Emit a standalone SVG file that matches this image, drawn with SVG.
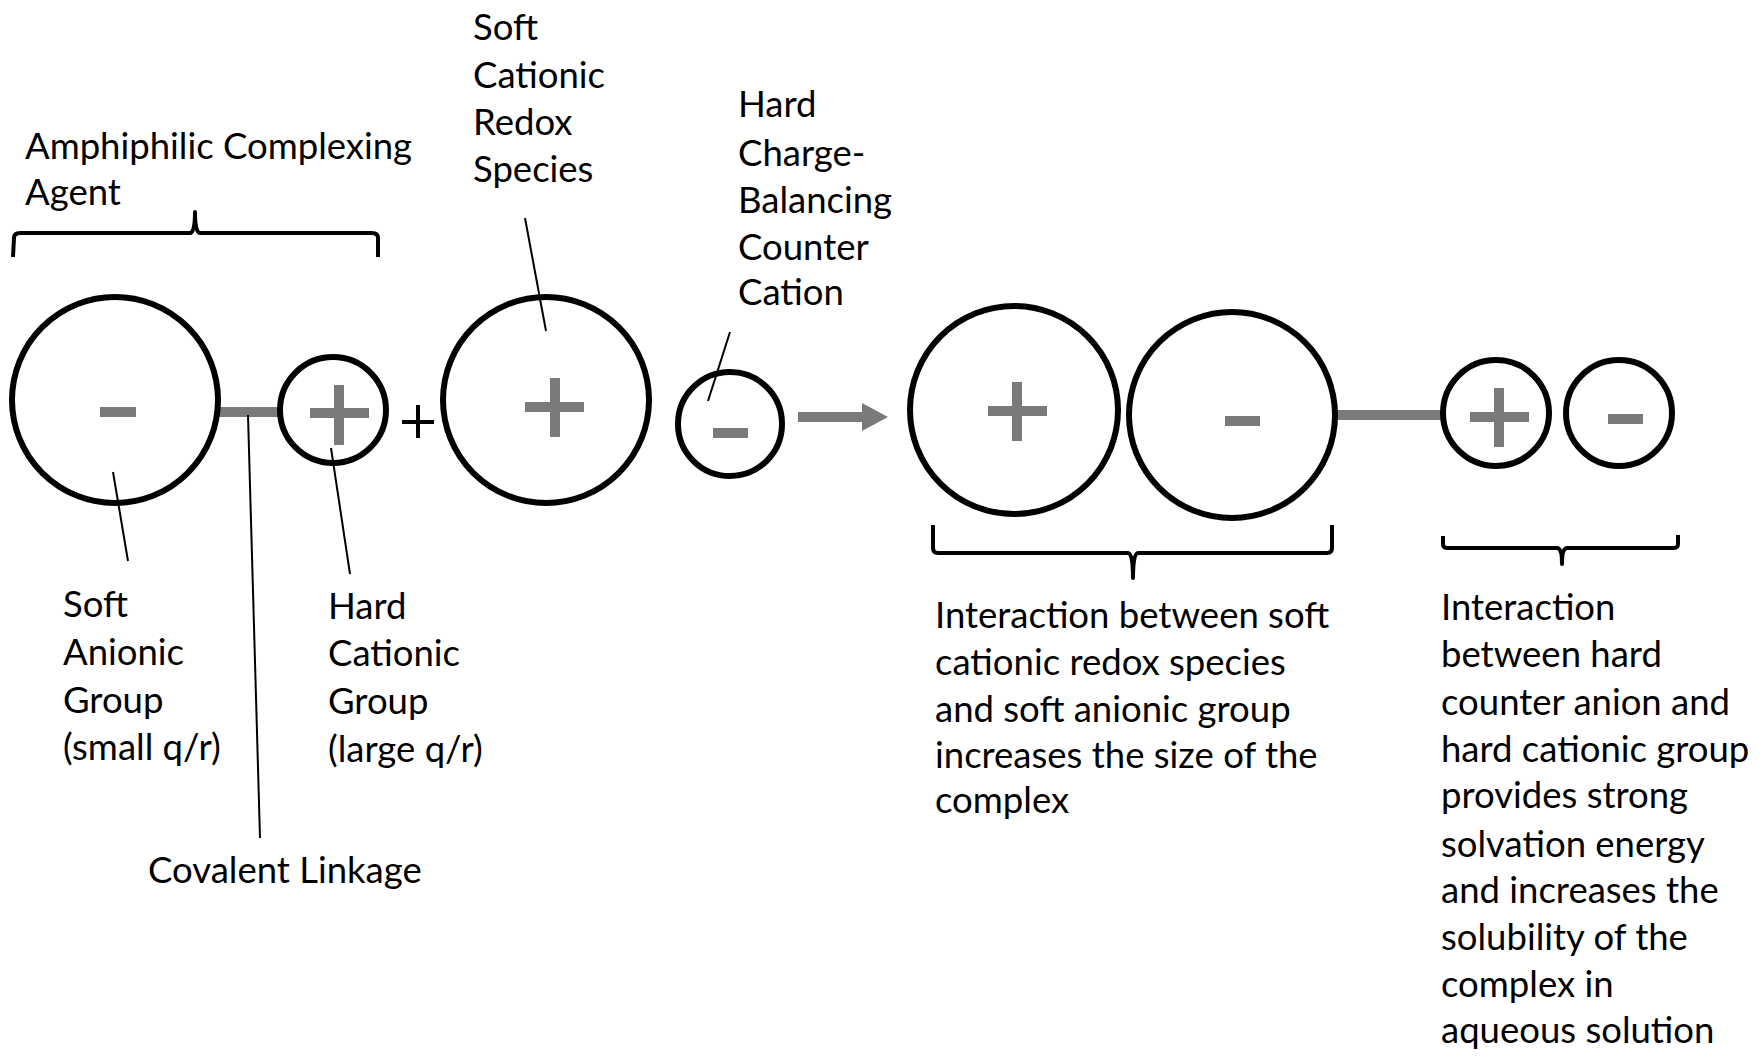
<svg xmlns="http://www.w3.org/2000/svg" width="1764" height="1061" viewBox="0 0 1764 1061">
<style>
.ring{fill:none;stroke:#000;stroke-width:6}
.sign{stroke:#7a7a7a;stroke-width:10;fill:none}
.lead{stroke:#000;stroke-width:2;fill:none}
.brace{stroke:#000;stroke-width:4;fill:none;stroke-linejoin:round}
text{font-family:Lato,"Open Sans","Liberation Sans",sans-serif;font-size:36.5px;fill:#000}
</style>
<rect width="1764" height="1061" fill="#fff"/>
<g id="connectors">
<line class="sign" x1="218" y1="412" x2="282" y2="412"/>
<line class="sign" x1="1335" y1="415" x2="1443" y2="415"/>
<line class="sign" x1="798" y1="417" x2="866" y2="417"/>
<polygon points="862,403 888,417 862,431" fill="#7a7a7a"/>
<line x1="402" y1="422" x2="434" y2="422" stroke="#000" stroke-width="4"/>
<line x1="418" y1="405" x2="418" y2="438" stroke="#000" stroke-width="4"/>
<line class="lead" x1="113" y1="472" x2="128" y2="561"/>
<line class="lead" x1="248" y1="415" x2="260" y2="838"/>
<line class="lead" x1="331" y1="448" x2="350" y2="574"/>
<line class="lead" x1="525" y1="218" x2="546" y2="331"/>
<line class="lead" x1="708" y1="401" x2="730" y2="332"/>
<path class="brace" d="M13,257 L14,238 Q14,233 20,233 L190,233 Q195,233 195,212 Q195,233 200,233 L372,233 Q378,233 378,238 L378,257"/>
<path class="brace" d="M933,525 L933,548 Q933,553 938,553 L1128,553 Q1133,553 1133,578 Q1133,553 1138,553 L1327,553 Q1332,553 1332,548 L1332,525"/>
<path class="brace" d="M1443,536 L1443,544 Q1443,548 1448,548 L1557,548 Q1562,548 1562,564 Q1562,548 1567,548 L1673,548 Q1678,548 1678,544 L1678,535"/>
</g>
<g id="soft-anionic-group">
<circle class="ring" cx="115" cy="400" r="103"/>
<line class="sign" x1="100" y1="412" x2="136" y2="412"/>
</g>
<g id="hard-cationic-group">
<circle class="ring" cx="333" cy="410" r="53"/>
<path class="sign" d="M310,413 H369 M339,385 V445"/>
</g>
<g id="soft-cationic-redox">
<circle class="ring" cx="546" cy="400" r="103"/>
<path class="sign" d="M525,407 H584 M555,378 V437"/>
</g>
<g id="counter-ion">
<circle class="ring" cx="730" cy="424" r="52"/>
<line class="sign" x1="713" y1="433" x2="748" y2="433"/>
</g>
<g id="complex-cation">
<circle class="ring" cx="1014" cy="410" r="104"/>
<path class="sign" d="M988,411 H1047 M1017,382 V441"/>
</g>
<g id="complex-anion">
<circle class="ring" cx="1232" cy="415" r="103"/>
<line class="sign" x1="1225" y1="421" x2="1260" y2="421"/>
</g>
<g id="complex-hard-cation">
<circle class="ring" cx="1496" cy="413" r="53"/>
<path class="sign" d="M1470,417 H1529 M1499,388 V447"/>
</g>
<g id="complex-hard-anion">
<circle class="ring" cx="1619" cy="413" r="53"/>
<line class="sign" x1="1608" y1="419" x2="1643" y2="419"/>
</g>
<g id="labels">
<text x="25" y="159">Amphiphilic Complexing</text>
<text x="25" y="205">Agent</text>
<text x="473" y="40">Soft</text>
<text x="473" y="88">Cationic</text>
<text x="473" y="135">Redox</text>
<text x="473" y="182">Species</text>
<text x="738" y="117">Hard</text>
<text x="738" y="166">Charge-</text>
<text x="738" y="213">Balancing</text>
<text x="738" y="260">Counter</text>
<text x="738" y="305">Cation</text>
<text x="63" y="617">Soft</text>
<text x="63" y="665">Anionic</text>
<text x="63" y="713">Group</text>
<text x="63" y="760">(small q/r)</text>
<text x="328" y="619">Hard</text>
<text x="328" y="666">Cationic</text>
<text x="328" y="714">Group</text>
<text x="328" y="762">(large q/r)</text>
<text x="148" y="883">Covalent Linkage</text>
<text x="935" y="628">Interaction between soft</text>
<text x="935" y="675">cationic redox species</text>
<text x="935" y="722">and soft anionic group</text>
<text x="935" y="768">increases the size of the</text>
<text x="935" y="813">complex</text>
<text x="1441" y="620">Interaction</text>
<text x="1441" y="667">between hard</text>
<text x="1441" y="715">counter anion and</text>
<text x="1441" y="762">hard cationic group</text>
<text x="1441" y="808">provides strong</text>
<text x="1441" y="857">solvation energy</text>
<text x="1441" y="903">and increases the</text>
<text x="1441" y="950">solubility of the</text>
<text x="1441" y="997">complex in</text>
<text x="1441" y="1043">aqueous solution</text>
</g>
</svg>
